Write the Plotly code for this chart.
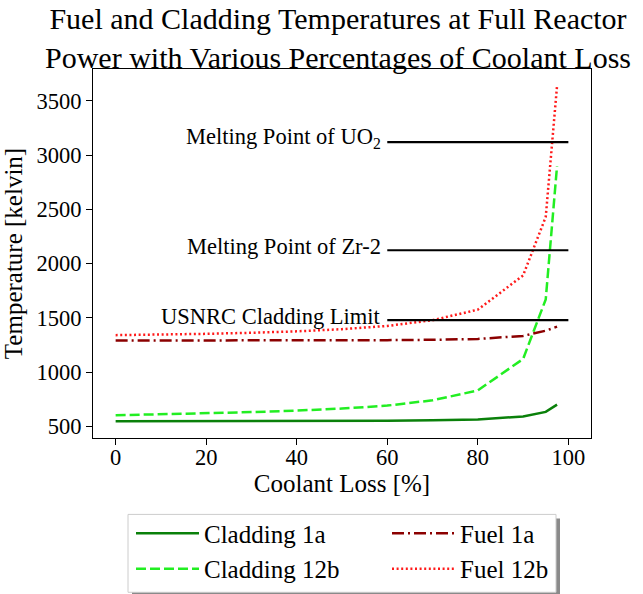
import plotly.graph_objects as go

# Coolant loss (%) at which each case was evaluated
coolant_loss = [0, 10, 20, 30, 40, 50, 60, 70, 80, 90, 95, 97.5]

# Temperatures in kelvin
cladding_1a = [546, 546, 547, 547, 548, 549, 551, 554, 562, 590, 632, 699]
cladding_12b = [601, 609, 619, 630, 644, 663, 690, 739, 830, 1120, 1670, 2900]
fuel_1a = [1290, 1290, 1290, 1290, 1291, 1292, 1294, 1297, 1305, 1333, 1381, 1418]
fuel_12b = [1340, 1345, 1352, 1362, 1375, 1395, 1425, 1478, 1575, 1890, 2430, 3640]

# Reference temperature limits (kelvin), drawn from 60 % to 100 % coolant loss
limit_names = ["Melting Point of UO<sub>2</sub>", "Melting Point of Zr-2", "USNRC Cladding Limit"]
limit_values = [3120, 2123, 1478]
limit_span = [60, 100]

x_ticks = [0, 20, 40, 60, 80, 100]
y_ticks = [500, 1000, 1500, 2000, 2500, 3000, 3500]

FONT = "Liberation Serif"
W, H = 643, 594
PL, PR, PT, PB = 93, 52, 69, 155.5
PW, PH = W - PL - PR, H - PT - PB


def px_x(px):
    return (px - PL) / PW


def px_y(py):
    return (H - PB - py) / PH


fig = go.Figure()

series = [
    ("Cladding 1a", cladding_1a, "#0a800a", "solid", "legend"),
    ("Cladding 12b", cladding_12b, "#22ee22", "10px,4px", "legend"),
    ("Fuel 1a", fuel_1a, "#8b0000", "12px,4px,2px,4px", "legend2"),
    ("Fuel 12b", fuel_12b, "#ff1a1a", "2px,2.6px", "legend2"),
]
for name, values, color, dash, leg in series:
    fig.add_trace(go.Scatter(
        x=coolant_loss, y=values, mode="lines", name=name,
        line=dict(color=color, width=2.5, dash=dash),
        legend=leg, legendgroup=name,
    ))

for name, value in zip(limit_names, limit_values):
    fig.add_trace(go.Scatter(
        x=limit_span, y=[value, value], mode="lines",
        line=dict(color="black", width=2.2), showlegend=False, hoverinfo="skip",
    ))
    fig.add_annotation(
        x=limit_span[0], y=value, xref="x", yref="y", text=name, showarrow=False,
        xanchor="right", yanchor="middle", xshift=-4, yshift=4,
        font=dict(family=FONT, size=22.5, color="black"),
    )

# Axis limits padded 5 % beyond the data, as in the original figure
all_y = cladding_1a + cladding_12b + fuel_1a + fuel_12b
y_lo, y_hi = min(all_y), max(all_y)
pad = 0.05 * (y_hi - y_lo)
x_lo, x_hi = 0, limit_span[1]
xpad = 0.05 * (x_hi - x_lo)

# Legend frame with a drop shadow
fig.add_shape(type="rect", xref="paper", yref="paper",
              x0=px_x(132), x1=px_x(560), y0=px_y(597), y1=px_y(519),
              line=dict(width=0), fillcolor="#8a8a8a", layer="above")
fig.add_shape(type="rect", xref="paper", yref="paper",
              x0=px_x(128), x1=px_x(556), y0=px_y(593), y1=px_y(515),
              line=dict(color="#cccccc", width=1), fillcolor="white", layer="above")

legend_style = dict(
    orientation="v", yanchor="top", xanchor="left", y=px_y(511),
    font=dict(family=FONT, size=25, color="black"),
    bgcolor="rgba(0,0,0,0)", borderwidth=0, itemwidth=63,
    tracegroupgap=0, itemclick=False, itemdoubleclick=False,
)

fig.update_layout(
    width=W, height=H,
    margin=dict(l=PL, r=PR, t=PT, b=PB, autoexpand=False),
    paper_bgcolor="white", plot_bgcolor="white",
    font=dict(family=FONT, color="black"),
    title=dict(
        text="Fuel and Cladding Temperatures at Full Reactor<br>Power with Various Percentages of Coolant Loss",
        x=0.492, xref="paper", xanchor="center",
        y=0.952, yref="container", yanchor="top",
        font=dict(family=FONT, size=30, color="black"),
    ),
    legend=dict(x=px_x(131), **legend_style),
    legend2=dict(x=px_x(387), **legend_style),
    showlegend=True,
)

fig.update_xaxes(
    range=[x_lo - xpad, x_hi + xpad], tickvals=x_ticks,
    showgrid=False, zeroline=False, showline=True, linecolor="black", linewidth=1.2,
    mirror=True, ticks="outside", ticklen=6, tickwidth=1.2, tickcolor="black",
    ticklabelstandoff=-7,
    tickfont=dict(family=FONT, size=22.5, color="black"),
    title=dict(text="Coolant Loss [%]", font=dict(family=FONT, size=25, color="black"), standoff=4),
)
fig.update_yaxes(
    range=[y_lo - pad, y_hi + pad], tickvals=y_ticks,
    showgrid=False, zeroline=False, showline=True, linecolor="black", linewidth=1.2,
    mirror=True, ticks="outside", ticklen=6, tickwidth=1.2, tickcolor="black",
    tickfont=dict(family=FONT, size=22.5, color="black"),
    title=dict(text="Temperature [kelvin]", font=dict(family=FONT, size=25, color="black")),
)

fig.write_html("out.html")
